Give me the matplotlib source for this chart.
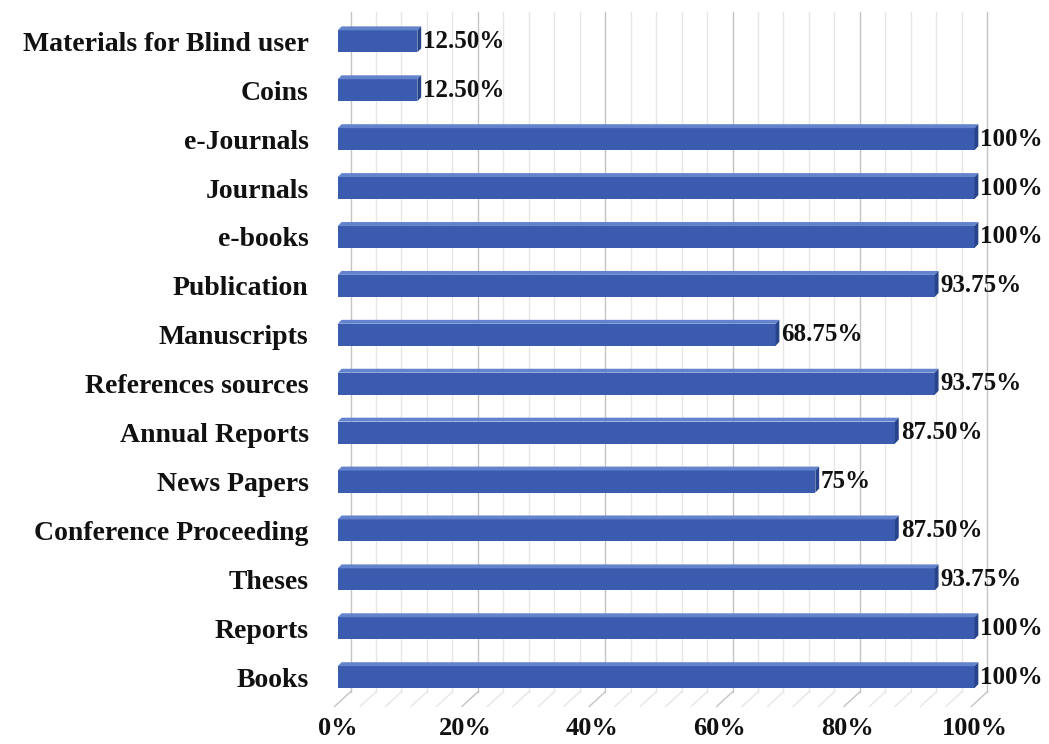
import numpy as np
import matplotlib
matplotlib.use("Agg")
import matplotlib.pyplot as plt

# data (bottom to top)
categories = ["Books", "Reports", "Theses", "Conference Proceeding", "News Papers",
              "Annual Reports", "References sources", "Manuscripts", "Publication",
              "e-books", "Journals", "e-Journals", "Coins", "Materials for Blind user"]
values = [100, 100, 93.75, 87.50, 75, 87.50, 93.75, 68.75, 93.75, 100, 100, 100, 12.50, 12.50]
value_labels = ["100%", "100%", "93.75%", "87.50%", "75%", "87.50%", "93.75%", "68.75%",
                "93.75%", "100%", "100%", "100%", "12.50%", "12.50%"]
tick_vals = [0, 20, 40, 60, 80, 100]
tick_labels = ["0%", "20%", "40%", "60%", "80%", "100%"]

plt.rcParams['font.family'] = ['Liberation Serif', 'DejaVu Serif']
plt.rcParams['font.weight'] = 'bold'

FRONT = '#3b5cae'
TOP = '#6383cc'
SIDE = '#27438a'

fig = plt.figure(figsize=(10.49, 7.44), dpi=100)
ax = fig.add_axes([0.322, 0.057, 0.607, 0.9335])

y = np.arange(len(categories))
h = 0.45
dx, dy = 0.6, 0.08  # depth of the 3d effect in data units
grid_top, floor = 13.6, -0.3

# back wall grid
for g in np.arange(0, 101, 4):
    major = g % 20 == 0
    col = '#c4c4c4' if major else '#e6e6e6'
    ax.plot([g + 2, g + 2], [floor, grid_top], color=col, lw=1.0, zorder=0, clip_on=False)
    ax.plot([g + 2, g - 0.5], [floor, floor - 0.3], color=col, lw=1.0, zorder=0, clip_on=False)

# bars
ax.barh(y, values, height=h, color=FRONT, edgecolor='none', zorder=2)
for yi, v in zip(y, values):
    t, b = yi + h / 2, yi - h / 2
    ax.fill([0, dx, v + dx, v], [t, t + dy, t + dy, t], color=TOP, lw=0, zorder=3, clip_on=False)
    ax.fill([v, v + dx, v + dx, v], [b, b + dy, t + dy, t], color=SIDE, lw=0, zorder=3, clip_on=False)

for yi, v, lab in zip(y, values, value_labels):
    ax.text(v + dx + 0.3, yi, lab, va='center', ha='left', fontsize=18,
            fontweight='bold', color='#111111', clip_on=False)

ax.set_xlim(0, 100)
ax.set_ylim(-0.5, 13.7)
ax.set_yticks(y)
ax.set_yticklabels(categories, fontsize=20, fontweight='bold', color='#111111')
ax.set_xticks(tick_vals)
ax.set_xticklabels(tick_labels, fontsize=19, fontweight='bold', color='#111111')
ax.tick_params(axis='both', length=0)
ax.tick_params(axis='y', pad=21)
ax.tick_params(axis='x', pad=11)
for s in ax.spines.values():
    s.set_visible(False)

fig.savefig("out.png", dpi=100)
